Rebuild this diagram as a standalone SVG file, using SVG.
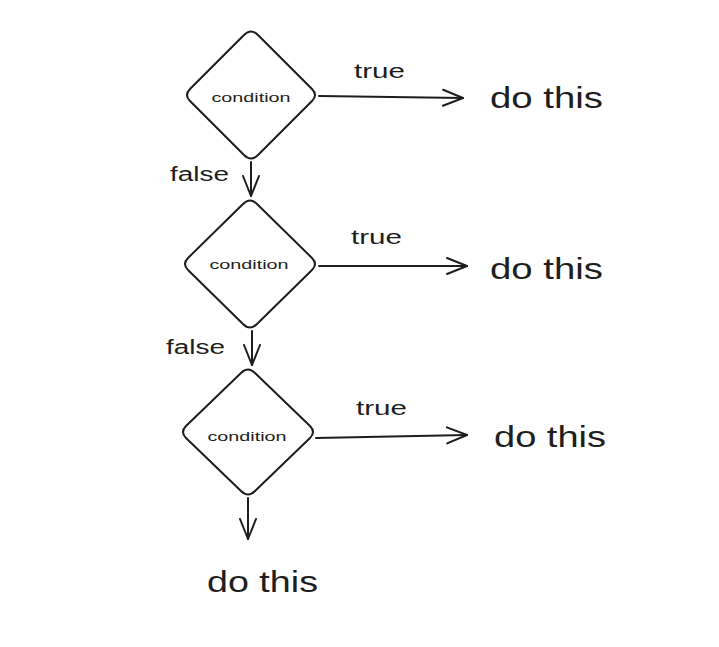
<svg xmlns="http://www.w3.org/2000/svg" width="719" height="647" viewBox="0 0 719 647">
<style>
.shape{fill:none;stroke:#1e1e1e;stroke-width:2;stroke-linejoin:round;stroke-linecap:round}
.edge{fill:none;stroke:#1e1e1e;stroke-width:2;stroke-linecap:round}
.t{font-family:"Liberation Sans","DejaVu Sans",sans-serif;fill:#1e1e1e}
.cond{font-size:13px;text-anchor:middle}
.lbl{font-size:20px}
.big{font-size:30px}
</style>
<defs>
<marker id="ah" markerUnits="userSpaceOnUse" markerWidth="30" markerHeight="30" refX="24" refY="15" orient="auto" viewBox="0 0 30 30">
<path d="M 4 7 L 24 15 L 4 23" fill="none" stroke="#1e1e1e" stroke-width="2" stroke-linecap="round" stroke-linejoin="round"/>
</marker>
</defs>
<rect width="719" height="647" fill="#ffffff"/>
<g id="connectors">
<line class="edge" x1="319" y1="96" x2="463" y2="98" marker-end="url(#ah)"/>
<line class="edge" x1="251" y1="162" x2="251" y2="196" marker-end="url(#ah)"/>
<line class="edge" x1="319" y1="266" x2="467" y2="266" marker-end="url(#ah)"/>
<line class="edge" x1="252" y1="331" x2="252" y2="365" marker-end="url(#ah)"/>
<line class="edge" x1="316" y1="438" x2="467" y2="435" marker-end="url(#ah)"/>
<line class="edge" x1="248" y1="498" x2="248" y2="539" marker-end="url(#ah)"/>
<text class="t lbl" x="354" y="78" textLength="51" lengthAdjust="spacingAndGlyphs">true</text>
<text class="t lbl" x="170" y="181" textLength="59" lengthAdjust="spacingAndGlyphs">false</text>
<text class="t lbl" x="351" y="244" textLength="51" lengthAdjust="spacingAndGlyphs">true</text>
<text class="t lbl" x="166" y="354" textLength="59" lengthAdjust="spacingAndGlyphs">false</text>
<text class="t lbl" x="356" y="415" textLength="51" lengthAdjust="spacingAndGlyphs">true</text>
</g>
<g id="cond1">
<path class="shape" d="M 258 35 L 312 89 Q 318 95 312 101 L 258 155 Q 251 162 244 155 L 190 101 Q 184 95 190 89 L 244 35 Q 251 28 258 35 Z"/>
<text class="t cond" x="251" y="102" textLength="79" lengthAdjust="spacingAndGlyphs">condition</text>
</g>
<g id="cond2">
<path class="shape" d="M 257 204 L 312 258 Q 318 264 312 270 L 257 324 Q 250 331 243 324 L 188 270 Q 182 264 188 258 L 243 204 Q 250 197 257 204 Z"/>
<text class="t cond" x="249" y="269" textLength="79" lengthAdjust="spacingAndGlyphs">condition</text>
</g>
<g id="cond3">
<path class="shape" d="M 255 373 L 310 426 Q 316 432 310 438 L 255 491 Q 248 498 241 491 L 186 438 Q 180 432 186 426 L 241 373 Q 248 366 255 373 Z"/>
<text class="t cond" x="247" y="441" textLength="79" lengthAdjust="spacingAndGlyphs">condition</text>
</g>
<g id="do1"><text class="t big" x="490" y="108" textLength="113" lengthAdjust="spacingAndGlyphs">do this</text></g>
<g id="do2"><text class="t big" x="490" y="279" textLength="113" lengthAdjust="spacingAndGlyphs">do this</text></g>
<g id="do3"><text class="t big" x="494" y="447" textLength="112" lengthAdjust="spacingAndGlyphs">do this</text></g>
<g id="do4"><text class="t big" x="207" y="592" textLength="111" lengthAdjust="spacingAndGlyphs">do this</text></g>
</svg>
